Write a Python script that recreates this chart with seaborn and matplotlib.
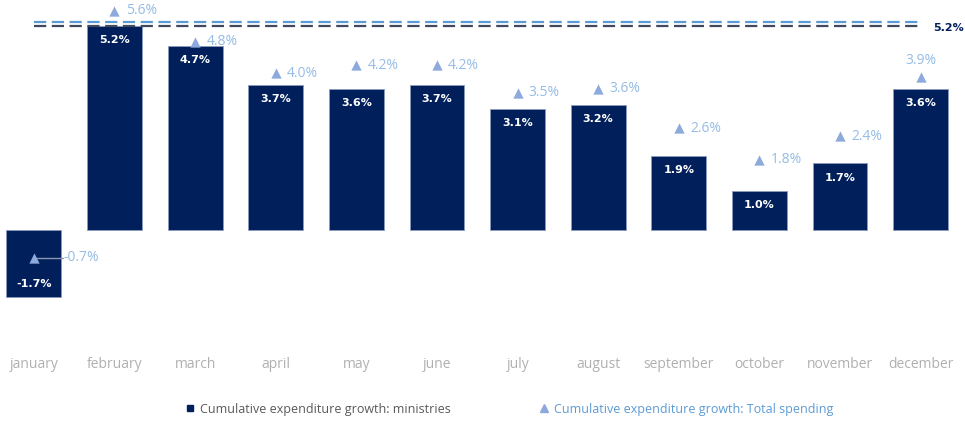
import matplotlib
matplotlib.use("Agg")
import matplotlib.pyplot as plt
from matplotlib.lines import Line2D
import seaborn as sns
import pandas as pd

months = ["january", "february", "march", "april", "may", "june", "july",
          "august", "september", "october", "november", "december"]
ministries = [-1.7, 5.2, 4.7, 3.7, 3.6, 3.7, 3.1, 3.2, 1.9, 1.0, 1.7, 3.6]
total_spending = [-0.7, 5.6, 4.8, 4.0, 4.2, 4.2, 3.5, 3.6, 2.6, 1.8, 2.4, 3.9]
ref_ministries = 5.2
ref_total = 5.3

navy = "#001F5B"
tri_col = "#8EA9DB"
lbl_col = "#95BCE6"
grey_txt = "#B0B0B0"

df = pd.DataFrame({"month": months, "ministries": ministries, "total": total_spending})

sns.set_theme(style="white")
plt.rcParams["font.family"] = ["Open Sans", "DejaVu Sans"]
bold_font = ["DejaVu Sans"]

fig = plt.figure(figsize=(9.65, 4.21), dpi=100)
ax = fig.add_axes([0, 0, 1, 1])

sns.barplot(data=df, x="month", y="ministries", color=navy, width=0.68,
            edgecolor="#8A9CC0", linewidth=0.6, saturation=1, ax=ax)
sns.scatterplot(data=df, x="month", y="total", marker="^", s=55, color=tri_col,
                edgecolor=tri_col, linewidth=0, ax=ax, zorder=5, legend=False)

# reference lines
ax.plot([0, 11], [ref_total, ref_total], color="#5B9BD5", lw=1.6,
        dashes=(5.5, 2.5), zorder=2)
ax.plot([0, 11], [ref_ministries, ref_ministries], color="#404A5C", lw=1.6,
        dashes=(5.5, 2.5), zorder=2)
ax.text(11.15, ref_ministries - 0.05, f"{ref_ministries:.1f}%", color=navy,
        fontsize=8, fontweight="bold", family=bold_font, va="center", ha="left")

# bar labels
for i, v in enumerate(ministries):
    y = v - 0.36 if v > 0 else v + 0.33
    ax.text(i, y, f"{v:.1f}%", color="white", fontsize=8, fontweight="bold",
            family=bold_font, ha="center", va="center", zorder=6)

# total spending labels
for i, v in enumerate(total_spending):
    if i == 0:
        ax.plot([i, i + 0.36], [v, v], color="#8A96B0", lw=1, zorder=4)
        ax.text(i + 0.37, v, f"{v:.1f}%", color=lbl_col, fontsize=10,
                ha="left", va="center")
    elif i == len(total_spending) - 1:
        ax.text(i, v + 0.42, f"{v:.1f}%", color=lbl_col, fontsize=10,
                ha="center", va="center")
    else:
        ax.text(i + 0.14, v, f"{v:.1f}%", color=lbl_col, fontsize=10,
                ha="left", va="center")

# month labels
for i, m in enumerate(months):
    ax.text(i, -3.42, m, color=grey_txt, fontsize=10, ha="center", va="center")

ax.set_xlim(-0.42, 11.55)
ax.set_ylim(-4.87, 5.87)
ax.axis("off")

handles = [
    Line2D([], [], marker="s", color=navy, ls="", markersize=5),
    Line2D([], [], marker="^", color=tri_col, ls="", markersize=6),
]
leg = fig.legend(handles, ["Cumulative expenditure growth: ministries",
                           "Cumulative expenditure growth: Total spending"],
                 loc="center", bbox_to_anchor=(0.527, 1 - 409 / 421), ncol=2,
                 frameon=False, fontsize=9, handletextpad=0.3,
                 columnspacing=7, handlelength=1)
leg.get_texts()[0].set_color("#595959")
leg.get_texts()[1].set_color("#5B9BD5")

fig.savefig("out.png", dpi=100)
